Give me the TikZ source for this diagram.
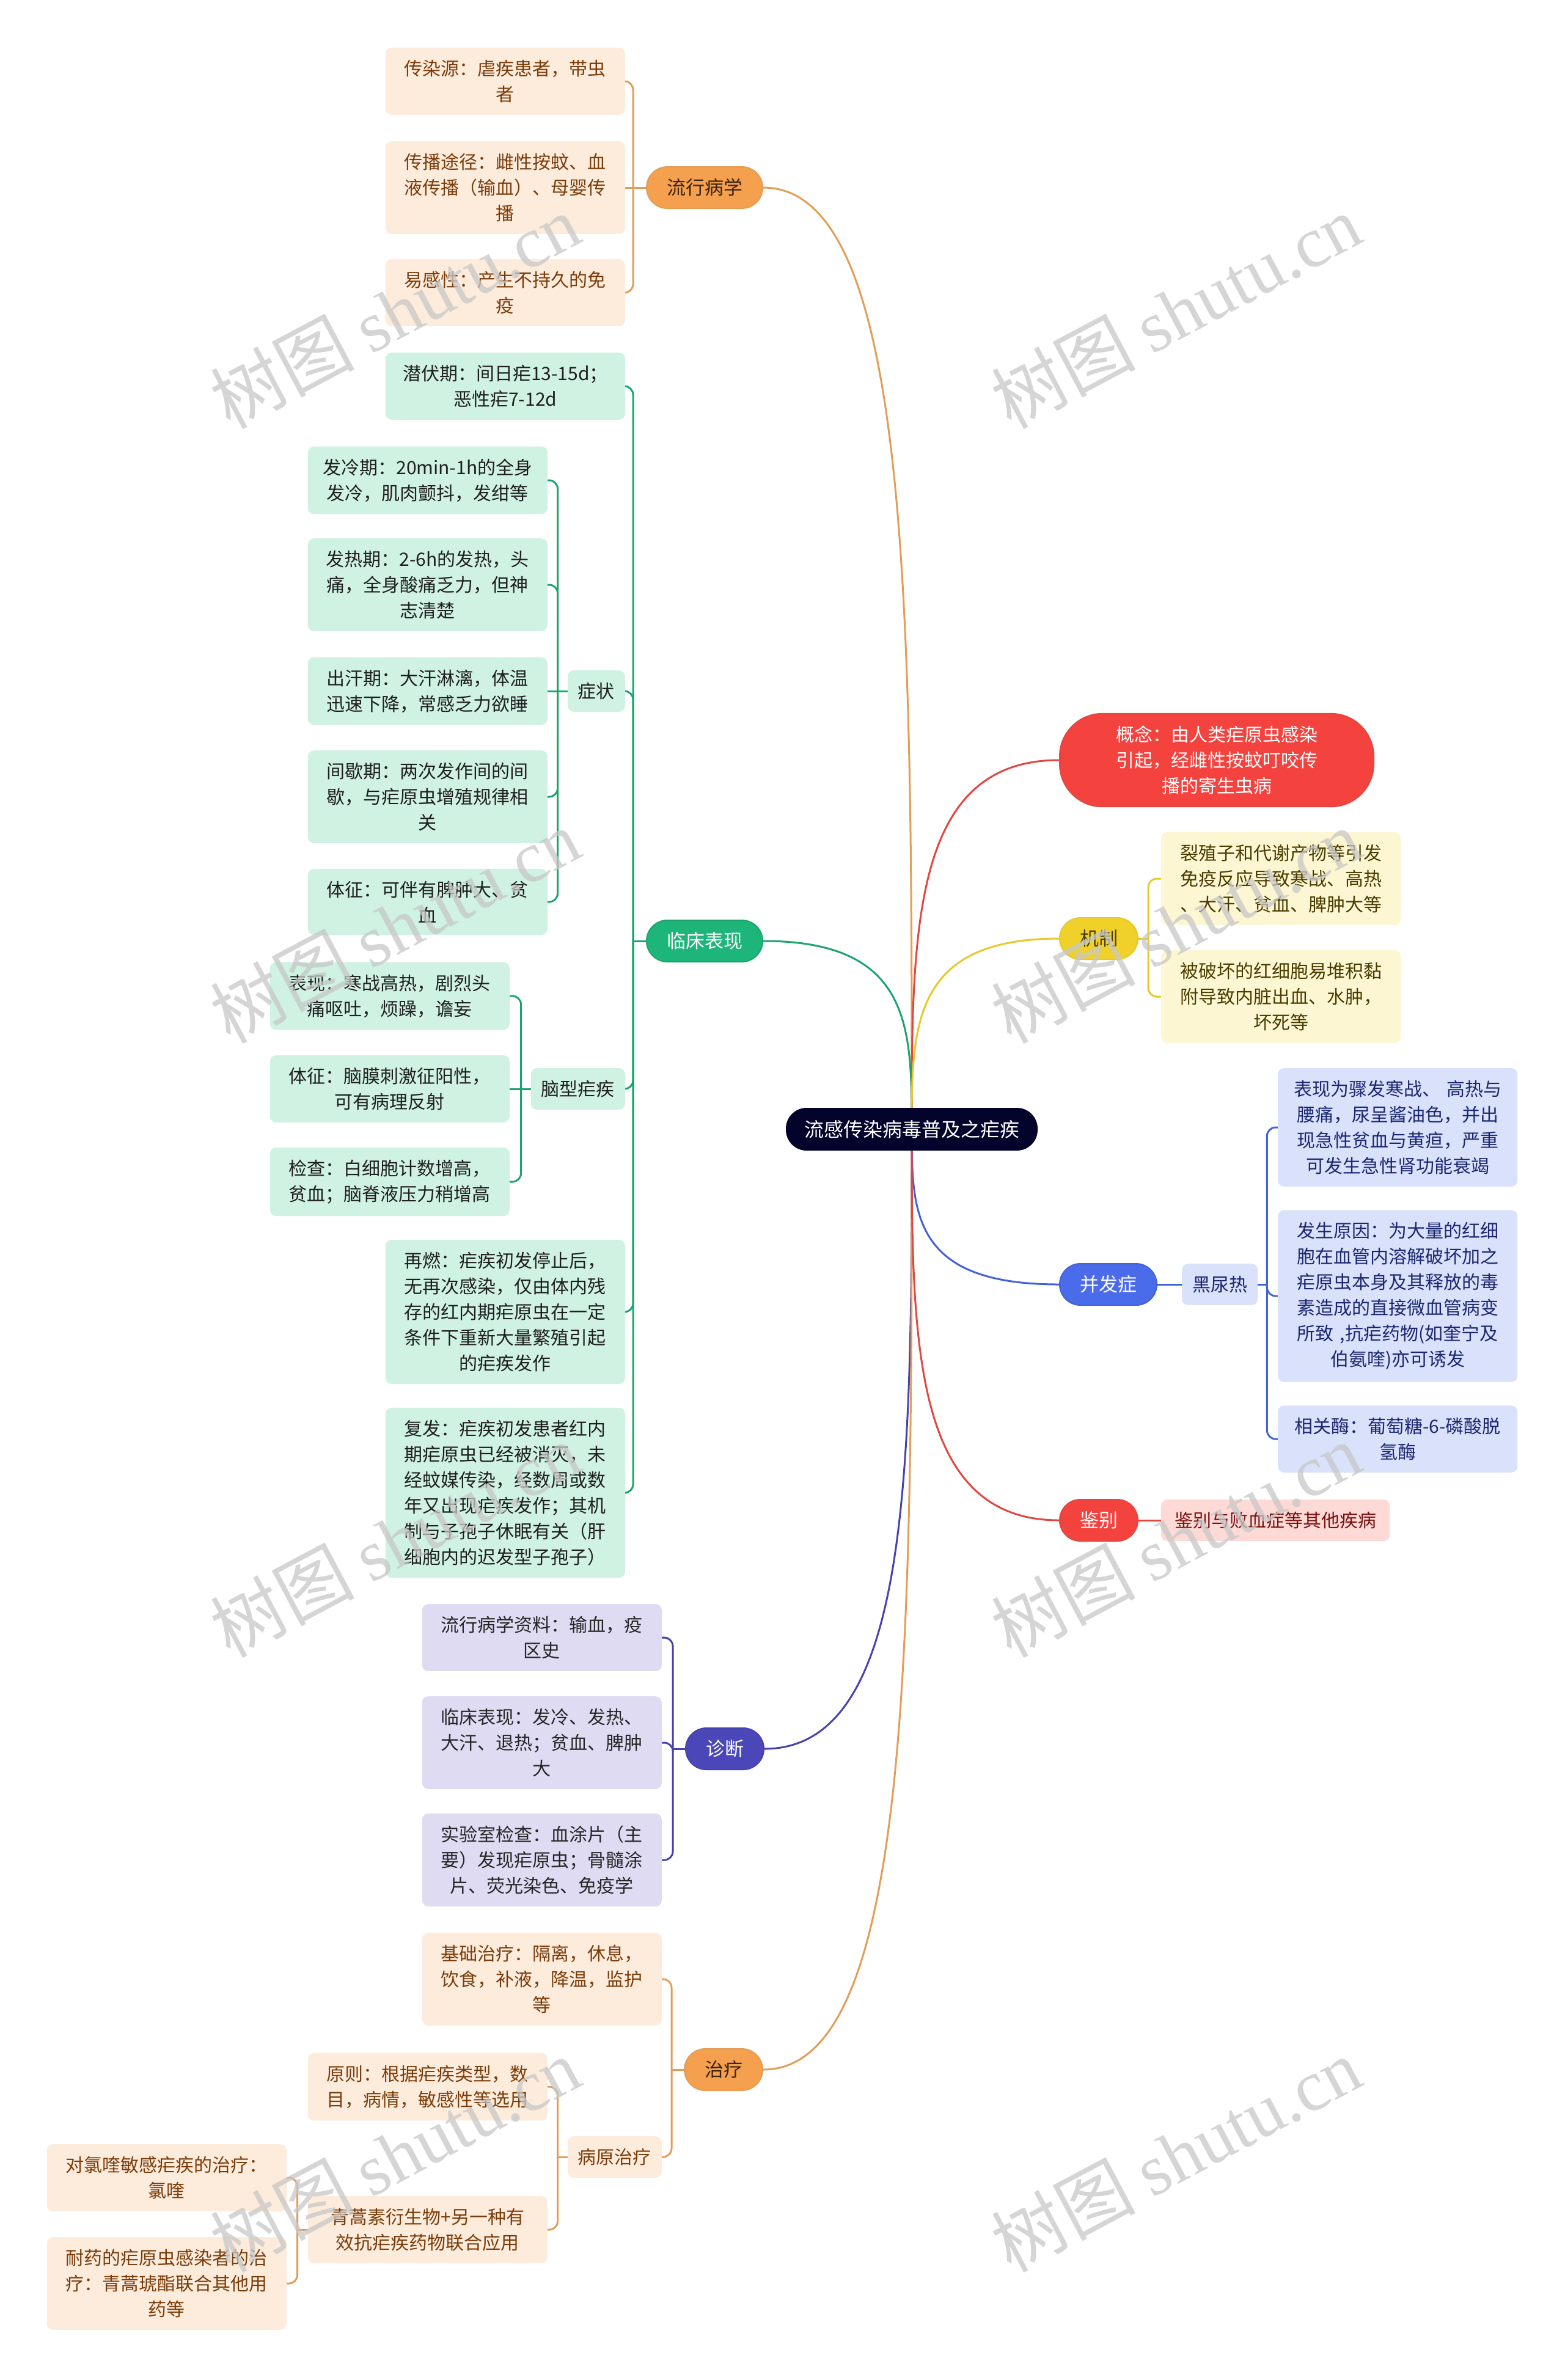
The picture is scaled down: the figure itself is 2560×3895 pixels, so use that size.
\documentclass[tikz,border=0pt]{standalone}
\usepackage{fontspec}
\setmainfont{Noto Sans CJK SC}
\newfontfamily\wmserif{Liberation Serif}
\usetikzlibrary{calc,backgrounds}
\setlength{\parindent}{0pt}
\definecolor{rootc}{HTML}{03032B}
\definecolor{orgfill}{HTML}{F4A04E}
\definecolor{orgline}{HTML}{E29D57}
\definecolor{orgleaf}{HTML}{FDEBDC}
\definecolor{orgtext}{HTML}{7A3D0A}
\definecolor{orgdark}{HTML}{3A2208}
\definecolor{grnfill}{HTML}{1DB57A}
\definecolor{grnline}{HTML}{1BA46E}
\definecolor{grnleaf}{HTML}{CFF2E2}
\definecolor{redfill}{HTML}{F4433F}
\definecolor{redline}{HTML}{E0473F}
\definecolor{redleaf}{HTML}{FDDAD6}
\definecolor{redtext}{HTML}{7A1212}
\definecolor{ylwfill}{HTML}{F0D12A}
\definecolor{ylwline}{HTML}{E6C92C}
\definecolor{ylwleaf}{HTML}{FCF6D2}
\definecolor{ylwtext}{HTML}{4A3C00}
\definecolor{blufill}{HTML}{4A6BEA}
\definecolor{bluline}{HTML}{4262D9}
\definecolor{bluleaf}{HTML}{D9E1FB}
\definecolor{blutext}{HTML}{1C2770}
\definecolor{purfill}{HTML}{4B47B9}
\definecolor{purline}{HTML}{4642AE}
\definecolor{purleaf}{HTML}{DEDBF3}
\newcommand\brkL[4]{%
  \draw[lnk,#1] (#2.west) -- ++(-#4,0);
  \draw[lnk,#1,rounded corners=14pt] (#2.west) ++(-#4,0) |- (#3.east);}
\newcommand\brkR[4]{%
  \draw[lnk,#1] (#2.east) -- ++(#4,0);
  \draw[lnk,#1,rounded corners=14pt] (#2.east) ++(#4,0) |- (#3.west);}
\newcommand\mainL[2]{\draw[lnk,#1] (#2.east) .. controls (#2.east -| root.center) and ($(root.center)!0.54!(root.center |- #2.east)$) .. (root.center);}
\newcommand\mainR[2]{\draw[lnk,#1] (#2.west) .. controls (#2.west -| root.center) and ($(root.center)!0.54!(root.center |- #2.west)$) .. (root.center);}
\begin{document}
\begin{tikzpicture}[x=1pt,y=-1pt,
  leafbox/.style={rectangle, rounded corners=10pt, inner xsep=16pt, inner ysep=20pt, text width=360pt, align=center, font=\fontsize{30pt}{42pt}\selectfont},
  subbox/.style={rectangle, rounded corners=10pt, inner xsep=17pt, inner ysep=20pt, font=\fontsize{30pt}{42pt}\selectfont},
  pillbox/.style={rectangle, rounded corners=34pt, minimum height=68pt, inner xsep=33pt, inner ysep=0pt, line width=2pt, font=\fontsize{31pt}{40pt}\selectfont},
  rootbox/.style={rectangle, rounded corners=34pt, minimum height=70pt, inner xsep=30pt, fill=rootc, text=white, font=\fontsize{32pt}{40pt}\selectfont},
  lnk/.style={line width=3pt},
  org/.style={fill=orgleaf, text=orgtext},
  grn/.style={fill=grnleaf, text=black!88},
  ylw/.style={fill=ylwleaf, text=ylwtext},
  blu/.style={fill=bluleaf, text=blutext},
  pur/.style={fill=purleaf, text=black!85},
  wmark/.style={text=black!22, opacity=0.75, rotate=28, font=\fontsize{118pt}{120pt}\selectfont}
]
\useasboundingbox (0,0) rectangle (2560,3895);
% root
\node[rootbox] (root) at (1492,1848) {流感传染病毒普及之疟疾};
% ---- 流行病学
\node[pillbox, fill=orgfill, draw=orgline, text=orgdark, anchor=east] (lxbx) at (1249,307) {流行病学};
\node[leafbox, org, anchor=east] (lx1) at (1023,133) {传染源：虐疾患者，带虫\\者};
\node[leafbox, org, anchor=east] (lx2) at (1023,307) {传播途径：雌性按蚊、血\\液传播（输血）、母婴传\\播};
\node[leafbox, org, anchor=east] (lx3) at (1023,479) {易感性：产生不持久的免\\疫};
% ---- 临床表现
\node[pillbox, fill=grnfill, draw=grnline, text=white, anchor=east] (lc) at (1249,1540) {临床表现};
\node[leafbox, grn, anchor=east] (lc1) at (1023,632) {潜伏期：间日疟13-15d；\\恶性疟7-12d};
\node[subbox, grn, anchor=east] (zz) at (1023,1131) {症状};
\node[leafbox, grn, anchor=east] (zz1) at (896,786) {发冷期：20min-1h的全身\\发冷，肌肉颤抖，发绀等};
\node[leafbox, grn, anchor=east] (zz2) at (896,957) {发热期：2-6h的发热，头\\痛，全身酸痛乏力，但神\\志清楚};
\node[leafbox, grn, anchor=east] (zz3) at (896,1131) {出汗期：大汗淋漓，体温\\迅速下降，常感乏力欲睡};
\node[leafbox, grn, anchor=east] (zz4) at (896,1304) {间歇期：两次发作间的间\\歇，与疟原虫增殖规律相\\关};
\node[leafbox, grn, anchor=east] (zz5) at (896,1476) {体征：可伴有脾肿大、贫\\血};
\node[subbox, grn, anchor=east] (nx) at (1023,1782) {脑型疟疾};
\node[leafbox, grn, anchor=east] (nx1) at (834,1630) {表现：寒战高热，剧烈头\\痛呕吐，烦躁，谵妄};
\node[leafbox, grn, anchor=east] (nx2) at (834,1782) {体征：脑膜刺激征阳性，\\可有病理反射};
\node[leafbox, grn, anchor=east] (nx3) at (834,1934) {检查：白细胞计数增高，\\贫血；脑脊液压力稍增高};
\node[leafbox, grn, anchor=east] (rr) at (1023,2147) {再燃：疟疾初发停止后，\\无再次感染，仅由体内残\\存的红内期疟原虫在一定\\条件下重新大量繁殖引起\\的疟疾发作};
\node[leafbox, grn, anchor=east] (ff) at (1023,2443) {复发：疟疾初发患者红内\\期疟原虫已经被消灭，未\\经蚊媒传染，经数周或数\\年又出现疟疾发作；其机\\制与子孢子休眠有关（肝\\细胞内的迟发型子孢子）};
% ---- 诊断
\node[pillbox, fill=purfill, draw=purline, text=white, anchor=east] (zd) at (1251,2862) {诊断};
\node[leafbox, pur, anchor=east] (zd1) at (1083,2680) {流行病学资料：输血，疫\\区史};
\node[leafbox, pur, anchor=east] (zd2) at (1083,2852) {临床表现：发冷、发热、\\大汗、退热；贫血、脾肿\\大};
\node[leafbox, pur, anchor=east] (zd3) at (1083,3044) {实验室检查：血涂片（主\\要）发现疟原虫；骨髓涂\\片、荧光染色、免疫学};
% ---- 治疗
\node[pillbox, fill=orgfill, draw=orgline, text=orgdark, anchor=east] (zl) at (1249,3387) {治疗};
\node[leafbox, org, anchor=east] (zl1) at (1083,3239) {基础治疗：隔离，休息，\\饮食，补液，降温，监护\\等};
\node[subbox, org, anchor=east] (by) at (1083,3530) {病原治疗};
\node[leafbox, org, anchor=east] (by1) at (896,3415) {原则：根据疟疾类型，数\\目，病情，敏感性等选用};
\node[leafbox, org, anchor=east] (by2) at (896,3649) {青蒿素衍生物+另一种有\\效抗疟疾药物联合应用};
\node[leafbox, org, anchor=east] (qh1) at (469,3564) {对氯喹敏感疟疾的治疗：\\氯喹};
\node[leafbox, org, anchor=east] (qh2) at (469,3737) {耐药的疟原虫感染者的治\\疗：青蒿琥酯联合其他用\\药等};
% ---- right side
\node[rectangle, rounded corners=70pt, fill=redfill, draw=redline, line width=2pt, text=white, inner xsep=87pt, inner ysep=20pt, text width=340pt, align=center, font=\fontsize{30pt}{42pt}\selectfont, anchor=west] (gn) at (1733,1244) {概念：由人类疟原虫感染\\引起，经雌性按蚊叮咬传\\播的寄生虫病};
\node[pillbox, fill=ylwfill, draw=ylwline, text=ylwtext, anchor=west] (jz) at (1733,1536) {机制};
\node[leafbox, ylw, anchor=west] (jz1) at (1900,1438) {裂殖子和代谢产物等引发\\免疫反应导致寒战、高热\\、大汗、贫血、脾肿大等};
\node[leafbox, ylw, anchor=west] (jz2) at (1900,1631) {被破坏的红细胞易堆积黏\\附导致内脏出血、水肿，\\坏死等};
\node[pillbox, fill=blufill, draw=bluline, text=white, anchor=west] (bf) at (1733,2102) {并发症};
\node[subbox, blu, anchor=west] (hn) at (1934,2102) {黑尿热};
\node[leafbox, blu, anchor=west] (hn1) at (2091,1845) {表现为骤发寒战、 高热与\\腰痛，尿呈酱油色，并出\\现急性贫血与黄疸，严重\\可发生急性肾功能衰竭};
\node[leafbox, blu, anchor=west] (hn2) at (2091,2121) {发生原因：为大量的红细\\胞在血管内溶解破坏加之\\疟原虫本身及其释放的毒\\素造成的直接微血管病变\\所致 ,抗疟药物(如奎宁及\\伯氨喹)亦可诱发};
\node[leafbox, blu, anchor=west] (hn3) at (2091,2355) {相关酶：葡萄糖-6-磷酸脱\\氢酶};
\node[pillbox, fill=redfill, draw=redline, text=white, anchor=west] (jb) at (1733,2488) {鉴别};
\node[subbox, fill=redleaf, text=redtext, inner xsep=22pt, anchor=west] (jb1) at (1900,2488) {鉴别与败血症等其他疾病};
% ---- connectors
\begin{scope}[on background layer]
\fill[white] (0,0) rectangle (2560,3895);
\mainL{orgline}{lxbx}
\mainL{grnline}{lc}
\mainL{purline}{zd}
\mainL{orgline}{zl}
\mainR{redline}{gn}
\mainR{ylwline}{jz}
\mainR{bluline}{bf}
\mainR{redline}{jb}
% 流行病学
\brkL{orgline}{lxbx}{lx1}{21}
\draw[lnk,orgline] (lxbx.west) -- (lx2.east);
\brkL{orgline}{lxbx}{lx3}{21}
% 临床表现
\brkL{grnline}{lc}{lc1}{21}
\brkL{grnline}{lc}{zz}{21}
\brkL{grnline}{lc}{nx}{21}
\brkL{grnline}{lc}{rr}{21}
\brkL{grnline}{lc}{ff}{21}
\brkL{grnline}{zz}{zz1}{16}
\brkL{grnline}{zz}{zz2}{16}
\draw[lnk,grnline] (zz.west) -- (zz3.east);
\brkL{grnline}{zz}{zz4}{16}
\brkL{grnline}{zz}{zz5}{16}
\brkL{grnline}{nx}{nx1}{16}
\draw[lnk,grnline] (nx.west) -- (nx2.east);
\brkL{grnline}{nx}{nx3}{16}
% 诊断
\brkL{purline}{zd}{zd1}{20}
\brkL{purline}{zd}{zd2}{20}
\brkL{purline}{zd}{zd3}{20}
% 治疗
\brkL{orgline}{zl}{zl1}{20}
\brkL{orgline}{zl}{by}{20}
\brkL{orgline}{by}{by1}{16}
\brkL{orgline}{by}{by2}{16}
\brkL{orgline}{by2}{qh1}{17}
\brkL{orgline}{by2}{qh2}{17}
% right
\brkR{ylwline}{jz}{jz1}{16}
\brkR{ylwline}{jz}{jz2}{16}
\draw[lnk,bluline] (bf.east) -- (hn.west);
\brkR{bluline}{hn}{hn1}{15}
\brkR{bluline}{hn}{hn2}{15}
\brkR{bluline}{hn}{hn3}{15}
\draw[lnk,redline] (jb.east) -- (jb1.west);
\end{scope}
% ---- watermarks
\foreach \wx/\wy [count=\i] in {646/509,1924/509,646/1515,1924/1515,646/2520,1924/2520,646/3526,1924/3526}
  \node[wmark] (wm\i) at (\wx,\wy) {树图 {\wmserif shutu.cn}};
\end{tikzpicture}
\end{document}
